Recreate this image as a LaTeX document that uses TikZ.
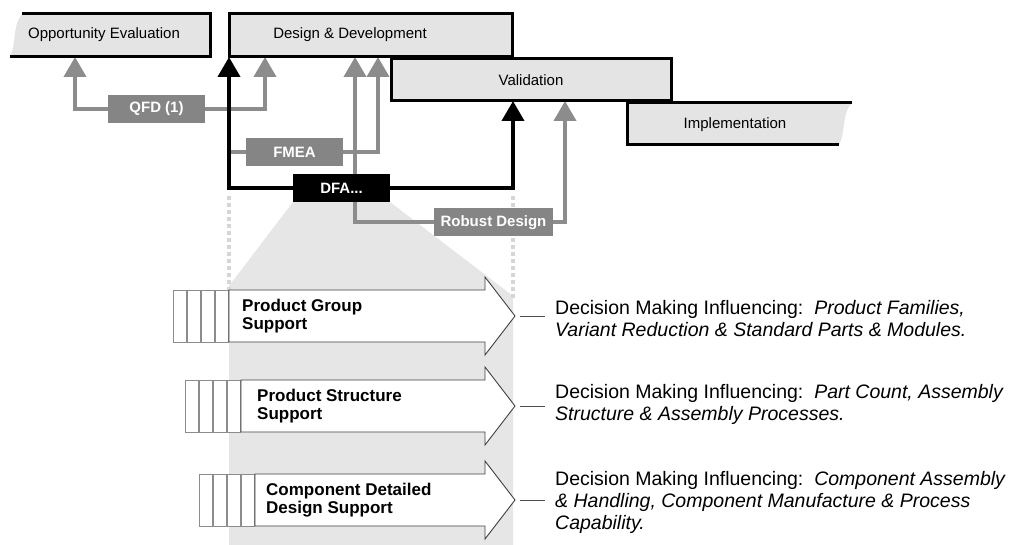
\documentclass[tikz,border=0pt]{standalone}
\usepackage{fontspec}
\setmainfont{Liberation Sans}
\usepackage{tikz}
\usetikzlibrary{arrows.meta}
\usetikzlibrary{backgrounds}
\definecolor{boxgray}{HTML}{E4E4E4}
\definecolor{linegray}{HTML}{8C8C8C}
\definecolor{taggray}{HTML}{858585}
\definecolor{shadegray}{HTML}{E6E6E6}
\definecolor{dotgray}{HTML}{D6D6D6}
\tikzset{
    phasebox/.style = {rectangle, draw=black, line width=3pt, fill=boxgray, inner sep=0pt, outer sep=0pt, anchor=north west, font=\fontsize{15}{18}\selectfont},
    phaseline/.style = {draw=black, line width=3pt},
    phasetext/.style = {inner sep=0pt, font=\fontsize{15}{18}\selectfont},
    toolnode/.style = {rectangle, fill=taggray, text=white, inner sep=0pt, minimum width=97pt, minimum height=28pt, font=\fontsize{15}{18}\selectfont\bfseries},
    toolline/.style = {draw=linegray, line width=4pt},
    toolarrow/.style = {draw=linegray, line width=4pt, -{Triangle[width=22pt,length=20pt]}},
    dfaarrow/.style = {draw=black, line width=4pt, -{Triangle[width=22pt,length=20pt]}},
    dotline/.style = {draw=dotgray, line width=4pt, dash pattern=on 4pt off 3pt},
    supparrow/.style = {draw=black!75, line width=0.9pt, fill=white},
    suppbar/.style = {draw=black!45, line width=0.8pt, fill=white},
    supptext/.style = {inner sep=0pt, anchor=west, align=left, font=\fontsize{17}{18.5}\selectfont\bfseries},
    desctext/.style = {inner sep=0pt, anchor=west, align=left, font=\fontsize{19.5}{22}\selectfont},
    descline/.style = {draw=black!70, line width=0.9pt}
}
\begin{document}
\begin{tikzpicture}[x=1pt, y=-1pt]
\useasboundingbox (0,0) rectangle (1014,545);
% phases
\fill[boxgray] (22,14) -- (210,14) -- (210,57) -- (10,57) .. controls (17,42) and (12,26) .. (22,14);
\draw[phaseline] (22,14) -- (210,14) -- (210,57) -- (10,57);
\node[phasetext] (oe) at (104,35) {Opportunity Evaluation};
\coordinate (oe-in) at (75,57);
\node[phasebox, minimum width=283pt, minimum height=43pt] (dd) at (229,14) {};
\node[phasetext] (ddtext) at (350,35) {Design \& Development};
\node[phasebox, minimum width=280pt, minimum height=42pt] (val) at (391,59) {Validation};
\fill[boxgray] (627,103) -- (852,103) .. controls (842,112) and (846,130) .. (839,145) -- (627,145) -- cycle;
\draw[phaseline] (852,103) -- (627,103) -- (627,145) -- (839,145);
\node[phasetext] (imp) at (735,125) {Implementation};
%
% tools
\node[toolnode] (qfd) at (156.5,109) {QFD (1)};
\node[toolnode] (fmea) at (294.5,152.5) {FMEA};
\node[toolnode, fill=black] (dfa) at (341.5,188) {DFA...};
\node[toolnode, minimum width=119pt] (rd) at (493.5,222.5) {Robust Design};
\coordinate (fm-in) at (229,152.5);
%
% support arrows
\draw[suppbar] (173,290) rectangle (186,342) (187,290) rectangle (200,342) (201,290) rectangle (214,342) (215,290) rectangle (228,342);
\draw[supparrow] (229,290) -- (485,290) -- (485,277) -- (515,316) -- (485,355) -- (485,342) -- (229,342) -- cycle;
\coordinate (pg-tip) at (515,316);
\node[supptext] (pg) at (242,316) {Product Group\\Support};
%
\draw[suppbar] (185,380) rectangle (198,432) (199,380) rectangle (212,432) (213,380) rectangle (226,432) (227,380) rectangle (240,432);
\draw[supparrow] (241,380) -- (485,380) -- (485,367) -- (515,406) -- (485,445) -- (485,432) -- (241,432) -- cycle;
\coordinate (ps-tip) at (515,406);
\node[supptext] (ps) at (257,406) {Product Structure\\Support};
%
\draw[suppbar] (199,474) rectangle (212,526) (213,474) rectangle (226,526) (227,474) rectangle (240,526) (241,474) rectangle (254,526);
\draw[supparrow] (255,474) -- (485,474) -- (485,461) -- (515,500) -- (485,539) -- (485,526) -- (255,526) -- cycle;
\coordinate (cd-tip) at (515,500);
\node[supptext] (cd) at (266,500) {Component Detailed\\Design Support};
%
% decisions
\node[desctext] (pgd) at (555,319) {Decision Making Influencing:\ \ \textit{Product Families,}\\\textit{Variant Reduction \& Standard Parts \& Modules.}};
\node[desctext] (psd) at (555,404) {Decision Making Influencing:\ \ \textit{Part Count, Assembly}\\\textit{Structure \& Assembly Processes.}};
\node[desctext] (cdd) at (555,502) {Decision Making Influencing:\ \ \textit{Component Assembly}\\\textit{\& Handling, Component Manufacture \& Process}\\\textit{Capability.}};
\draw[descline] ([xshift=5pt]pg-tip) -- ([xshift=-10pt]pg-tip -| pgd.west);
\draw[descline] ([xshift=5pt]ps-tip) -- ([xshift=-10pt]ps-tip -| psd.west);
\draw[descline] ([xshift=5pt]cd-tip) -- ([xshift=-10pt]cd-tip -| cdd.west);
%
\begin{pgfonlayer}{background}
\fill[shadegray] (dfa.south west) -- (dfa.south east) -- (513,296) -- (513,545) -- (229,545) -- (229,286) -- cycle;
\draw[dotline] (229,196) -- (229,292);
\draw[dotline] (513,196) -- (513,300);
%
\draw[toolarrow] (qfd.west) -| (oe-in);
\draw[toolarrow] (qfd.east) -| ([xshift=36pt]dd.south west);
\draw[toolline] (fm-in) -- (fmea.west);
\draw[toolarrow] (fmea.east) -| ([xshift=149pt]dd.south west);
\draw[toolarrow] (rd.west) -| ([xshift=126pt]dd.south west);
\draw[toolarrow] (rd.east) -| ([xshift=174pt]val.south west);
\draw[dfaarrow] (dfa.west) -| (dd.south west);
\draw[dfaarrow] (dfa.east) -| ([xshift=122pt]val.south west);
\end{pgfonlayer}
\end{tikzpicture}
\end{document}
